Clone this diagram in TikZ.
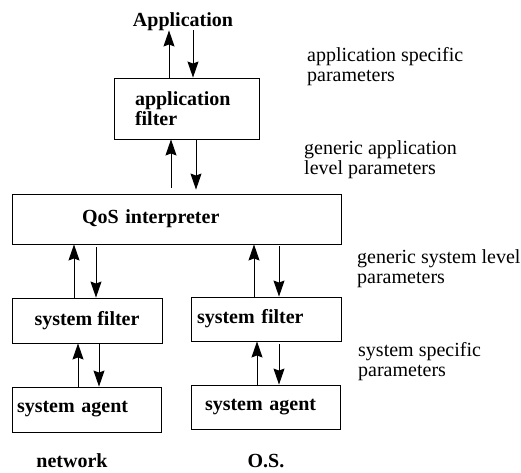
\documentclass[tikz,border=0pt]{standalone}
\usepackage{fontspec}
\setmainfont{Liberation Serif}
\usetikzlibrary{arrows.meta}
\usetikzlibrary{positioning}

\tikzset{
	box/.style={draw,line width=0.9pt,inner ysep=0pt,font=\bfseries},
	arr/.style={line width=0.9pt,-{Stealth[length=16pt,width=11pt,inset=2pt]}},
	param/.style={anchor=west,align=left,inner sep=0pt}
}

\begin{document}
\fontsize{20}{20}\selectfont
\begin{tikzpicture}[x=1pt,y=-1pt]
	\useasboundingbox (0,0) rectangle (521,472);

	% boxes
	\node[inner sep=0pt,anchor=base,font=\bfseries] (app) at (183,26) {Application};
	\node[box,text width=103pt,inner xsep=21pt,minimum height=61pt,align=left] (appfilter) at (186.5,108.5) {application\\filter};
	\node[box,text width=189pt,inner xsep=70pt,minimum height=50pt,align=left] (qos) at (176.5,219) {QoS interpreter};
	\node[box,minimum width=150pt,minimum height=45pt] (sfL) at (87,320.5) {system filter};
	\node[box,text width=139pt,inner xsep=5pt,minimum height=45pt,align=left] (saL) at (86.5,409.5) {system agent};
	\node[box,text width=138pt,inner xsep=6pt,minimum height=44pt,align=left] (sfR) at (266,319) {system filter};
	\node[box,text width=121pt,inner xsep=14pt,minimum height=44pt,align=left] (saR) at (265.5,407) {system agent};
	\node[font=\bfseries] (net) at (72,461) {network};
	\node[font=\bfseries] (os) at (266,461) {O.S.};

	% connectors application <-> filter
	\draw[arr] ([xshift=-17.5pt]appfilter.north) -- ([xshift=-14pt]app.south);
	\draw[arr] ([xshift=10pt]app.south) -- ([xshift=6.5pt]appfilter.north);

	% connectors filter <-> interpreter
	\draw[arr,shorten <=6pt] ([xshift=-5.5pt]qos.north) -- ([xshift=-15.5pt]appfilter.south);
	\draw[arr,shorten >=4pt] ([xshift=9.5pt]appfilter.south) -- ([xshift=19.5pt]qos.north);

	% connectors interpreter <-> system filters
	\draw[arr] ([xshift=-13pt]sfL.north) -- ([xshift=-102.5pt]qos.south);
	\draw[arr,shorten <=3pt] ([xshift=-80.5pt]qos.south) -- ([xshift=9pt]sfL.north);
	\draw[arr] ([xshift=-12pt]sfR.north) -- ([xshift=77.5pt]qos.south);
	\draw[arr,shorten <=2pt] ([xshift=102.5pt]qos.south) -- ([xshift=13pt]sfR.north);

	% connectors system filters <-> agents
	\draw[arr] ([xshift=-8.5pt]saL.north) -- ([xshift=-9pt]sfL.south);
	\draw[arr] ([xshift=12pt]sfL.south) -- ([xshift=12.5pt]saL.north);
	\draw[arr] ([xshift=-8.5pt]saR.north) -- ([xshift=-9pt]sfR.south);
	\draw[arr,shorten <=3pt] ([xshift=13pt]sfR.south) -- ([xshift=13.5pt]saR.north);

	% parameter labels
	\node[param] (p1) at (307,67) {application specific\\parameters};
	\node[param] (p2) at (304,160) {generic application\\level parameters};
	\node[param] (p3) at (357,269) {generic system level\\parameters};
	\node[param] (p4) at (358,362) {system specific\\parameters};
\end{tikzpicture}
\end{document}
